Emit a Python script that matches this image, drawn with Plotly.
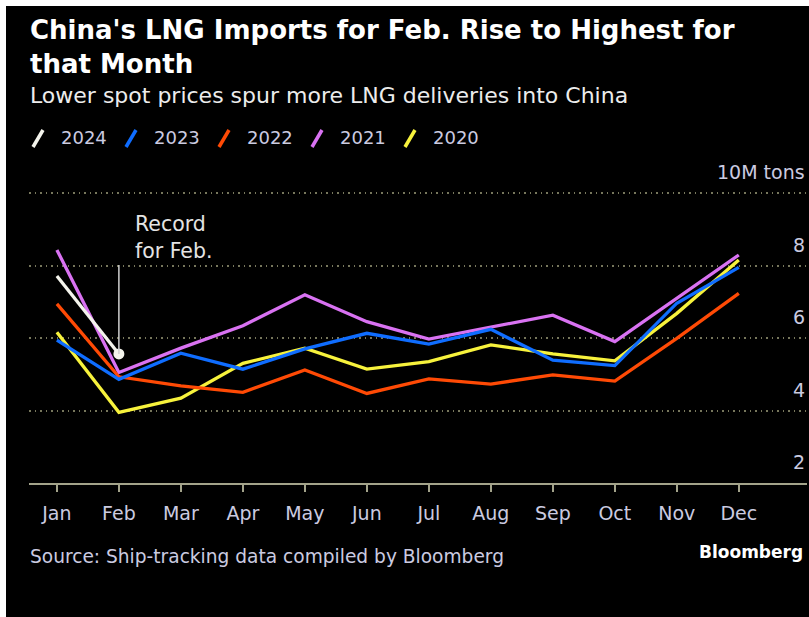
import plotly.graph_objs as go

# data (million tons)
months = ["Jan", "Feb", "Mar", "Apr", "May", "Jun", "Jul", "Aug", "Sep", "Oct", "Nov", "Dec"]
years = ["2024", "2023", "2022", "2021", "2020"]
imports_2024 = [7.71, 5.56]
imports_2023 = [5.94, 4.86, 5.58, 5.14, 5.70, 6.13, 5.83, 6.24, 5.39, 5.24, 6.96, 7.95]
imports_2022 = [6.94, 4.93, 4.68, 4.50, 5.12, 4.47, 4.87, 4.73, 4.98, 4.81, 5.99, 7.23]
imports_2021 = [8.43, 5.05, 5.72, 6.34, 7.19, 6.45, 5.97, 6.29, 6.63, 5.90, 7.09, 8.29]
imports_2020 = [6.16, 3.95, 4.34, 5.30, 5.72, 5.14, 5.35, 5.81, 5.56, 5.37, 6.68, 8.15]
y_ticks = [2, 4, 6, 8, 10]
y_tick_labels = ["2", "4", "6", "8", "10M tons"]

colors = {
    "2024": "#f4f4ec",
    "2023": "#0f6dff",
    "2022": "#ff4a05",
    "2021": "#d972f2",
    "2020": "#f7f23c",
}
series = {
    "2024": imports_2024,
    "2023": imports_2023,
    "2022": imports_2022,
    "2021": imports_2021,
    "2020": imports_2020,
}

W, H = 809, 617
L, R, T, B = 29, 2, 189, 134
PW, PH = W - L - R, H - T - B
Y_TOP = 2 + PH / 36.25   # keeps 10 gridline just inside the plot top


def px(x):
    # page pixel -> paper x
    return (x - L) / PW


def py(y):
    # page pixel -> paper y
    return (H - B - y) / PH


font = "DejaVu Sans"
grid_col = "#77775c"
axis_col = "#a3a38a"
label_col = "#cbcbe0"

fig = go.Figure()

# oldest first so 2024 ends up on top
for yr in reversed(years):
    vals = series[yr]
    fig.add_trace(go.Scatter(
        x=months[:len(vals)],
        y=vals,
        mode='lines',
        name=yr,
        line=dict(color=colors[yr], width=3.3),
        showlegend=False,
    ))

# record dot for Feb 2024
fig.add_trace(go.Scatter(
    x=[months[1]], y=[imports_2024[1]],
    mode='markers',
    marker=dict(color=colors["2024"], size=11),
    showlegend=False,
))

shapes = []
annotations = []

# callout line up from the dot
shapes.append(dict(
    type="line", xref="x", yref="y", ysizemode="pixel",
    x0=1, x1=1, yanchor=imports_2024[1], y0=0, y1=89,
    line=dict(color="#d0d0d0", width=1.5),
))
annotations.append(dict(
    xref="paper", yref="paper", x=px(133), y=py(237), xanchor="left", yanchor="middle",
    text="Record<br>for Feb.", align="left", showarrow=False,
    font=dict(family=font, size=20.5, color="#e4e4e4"),
))

# y labels sitting above the gridlines
for v, lab in zip(y_ticks, y_tick_labels):
    annotations.append(dict(
        xref="paper", yref="y", x=1, y=v, xanchor="right", yanchor="middle",
        yshift=21, text=lab, showarrow=False,
        font=dict(family=font, size=19, color=label_col),
    ))

# title block
annotations += [
    dict(xref="paper", yref="paper", x=px(28), y=py(30), xanchor="left", yanchor="middle",
         text="<b>China's LNG Imports for Feb. Rise to Highest for</b>", showarrow=False,
         font=dict(family=font, size=26, color="#ffffff")),
    dict(xref="paper", yref="paper", x=px(28), y=py(64), xanchor="left", yanchor="middle",
         text="<b>that Month</b>", showarrow=False,
         font=dict(family=font, size=26, color="#ffffff")),
    dict(xref="paper", yref="paper", x=px(28), y=py(95), xanchor="left", yanchor="middle",
         text="Lower spot prices spur more LNG deliveries into China", showarrow=False,
         font=dict(family=font, size=22, color="#ececec")),
    dict(xref="paper", yref="paper", x=px(28), y=py(556), xanchor="left", yanchor="middle",
         text="Source: Ship-tracking data compiled by Bloomberg", showarrow=False,
         font=dict(family=font, size=18.6, color=label_col)),
    dict(xref="paper", yref="paper", x=px(805), y=py(552), xanchor="right", yanchor="middle",
         text="<b>Bloomberg</b>", showarrow=False,
         font=dict(family=font, size=17, color="#ffffff")),
]

# custom legend with slanted strokes
for i, yr in enumerate(years):
    x0 = 33 + i * 93
    shapes.append(dict(
        type="line", xref="paper", yref="paper",
        x0=px(x0), y0=py(147), x1=px(x0 + 10), y1=py(130),
        line=dict(color=colors[yr], width=3.5),
    ))
    annotations.append(dict(
        xref="paper", yref="paper", x=px(x0 + 26), y=py(138), xanchor="left", yanchor="middle",
        text=yr, showarrow=False,
        font=dict(family=font, size=18, color=label_col),
    ))

# white frame on the left and top edges
shapes.append(dict(type="rect", xref="paper", yref="paper", x0=px(0), x1=px(6), y0=py(H), y1=py(0),
                   fillcolor="#ffffff", line=dict(width=0)))
shapes.append(dict(type="rect", xref="paper", yref="paper", x0=px(0), x1=px(W), y0=py(6), y1=py(0),
                   fillcolor="#ffffff", line=dict(width=0)))

fig.update_layout(
    width=W, height=H,
    margin=dict(l=L, r=R, t=T, b=B),
    paper_bgcolor="#000000",
    plot_bgcolor="#000000",
    shapes=shapes,
    annotations=annotations,
    xaxis=dict(
        type="category",
        range=[-0.45, 12.1],
        showgrid=False,
        showline=True, linecolor=axis_col, linewidth=2,
        ticks="outside", ticklen=7, tickcolor=axis_col, tickwidth=1.5,
        ticklabelstandoff=5,
        tickfont=dict(family=font, size=19, color=label_col),
        zeroline=False,
    ),
    yaxis=dict(
        range=[2, Y_TOP],
        tickvals=y_ticks,
        showticklabels=False,
        showgrid=True, gridcolor=grid_col, griddash="1.5px,4px", gridwidth=1.5,
        zeroline=False, showline=False,
    ),
)

fig.write_html("out.html", config={"displayModeBar": False},
               post_script="document.body.style.margin='0';")
